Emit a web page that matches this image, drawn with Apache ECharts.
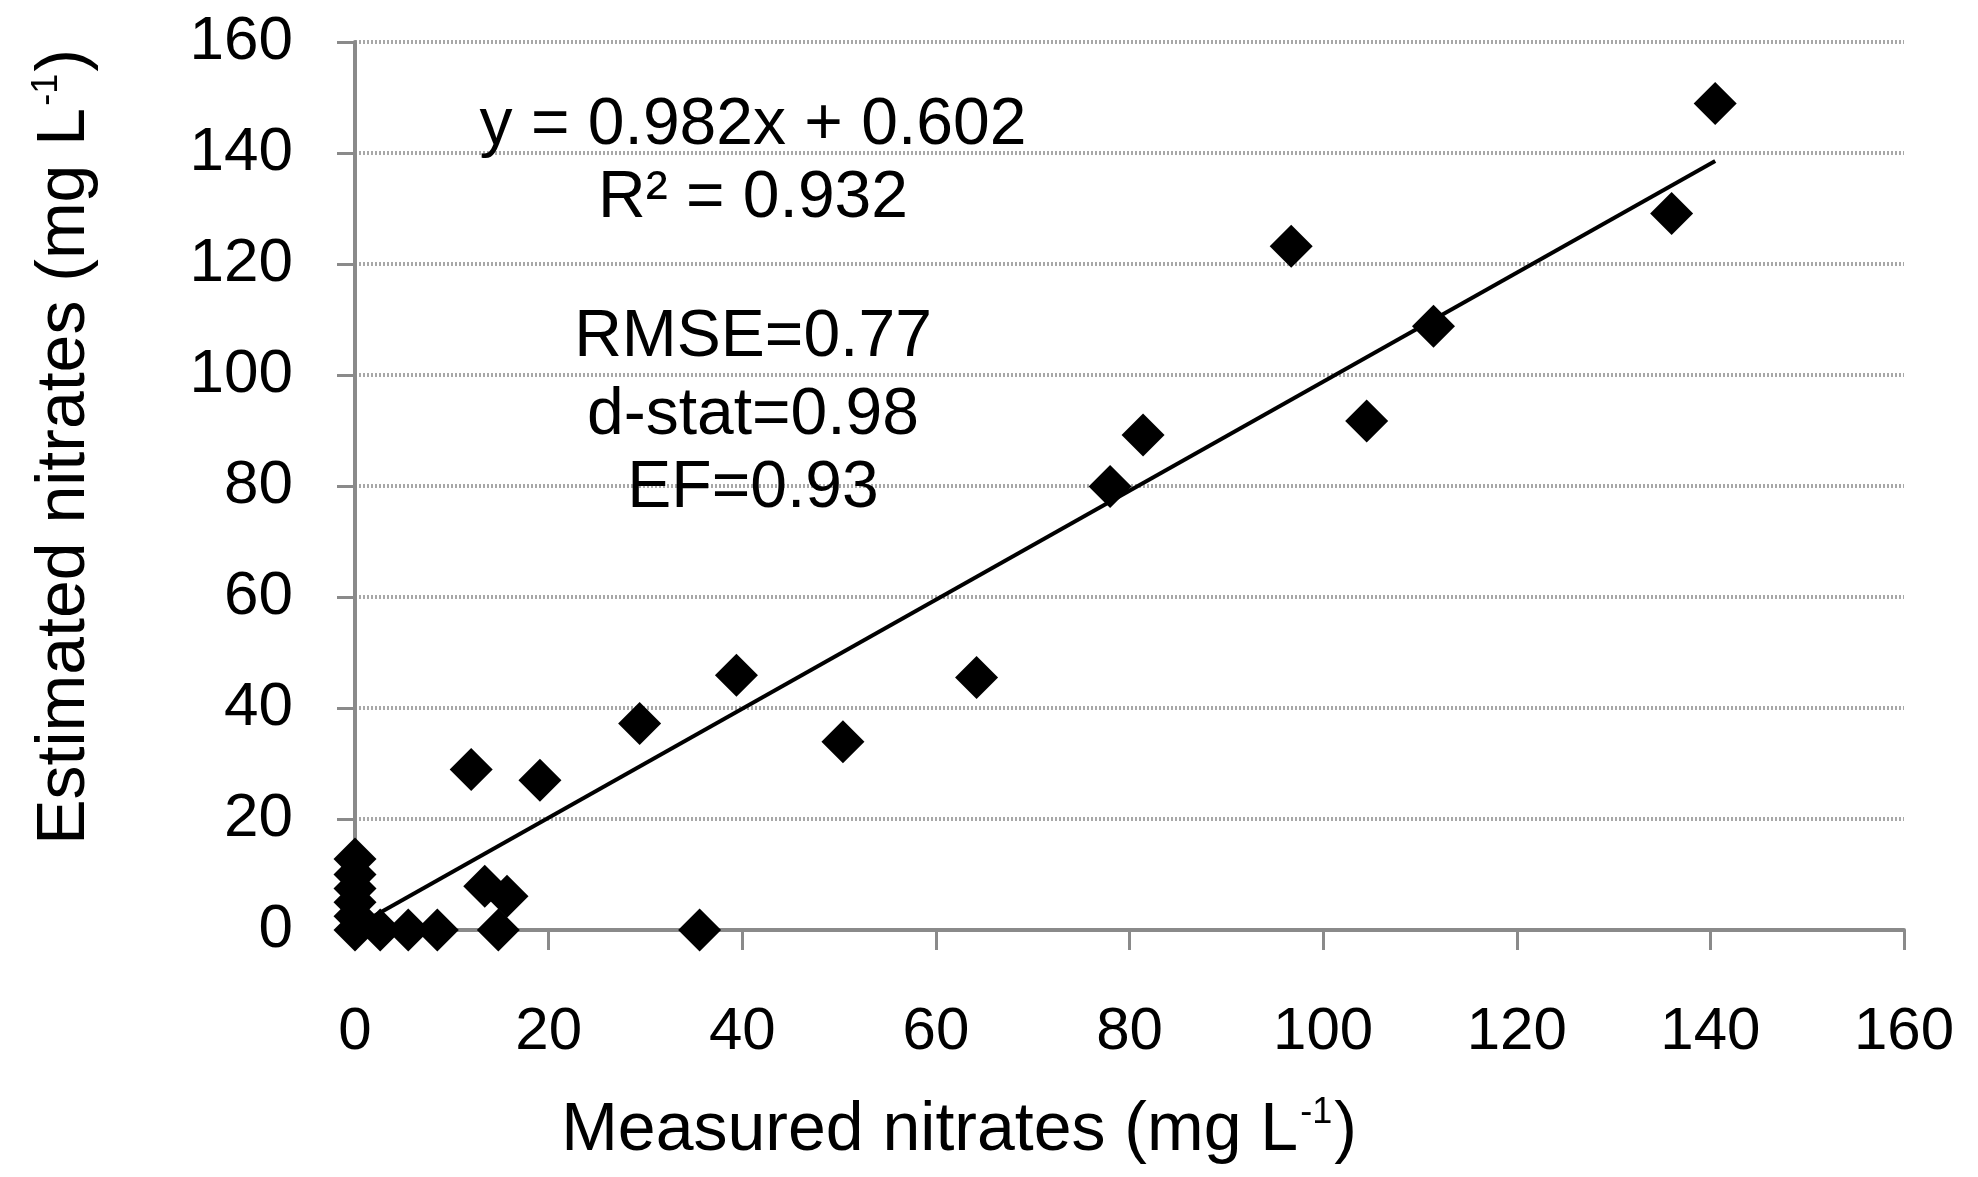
<!DOCTYPE html>
<html>
<head>
<meta charset="utf-8">
<script src="https://cdn.jsdelivr.net/npm/echarts@6/dist/echarts.min.js"></script>
<style>
html,body{margin:0;padding:0;background:#fff;}
#chart{width:1978px;height:1177px;}
</style>
</head>
<body>
<div id="chart"></div>
<script>
// Measured (x) vs estimated (y) nitrates, mg L-1
var measured = [140.5, 136.0, 111.4, 104.5, 96.7, 81.4, 78.0, 64.2, 50.4, 39.4, 29.4, 19.1, 12.0, 35.6, 13.4, 15.7, 14.8, 8.5, 5.5, 2.6, 0, 0, 0, 0, 0, 0];
var estimated = [148.9, 129.1, 108.8, 91.7, 123.2, 89.2, 79.9, 45.5, 33.9, 45.9, 37.2, 27.0, 28.9, 0, 7.9, 6.1, 0, 0, 0, 0, 0, 2.5, 5.0, 7.5, 10.0, 12.8];
// Trendline as printed on the chart: y = 0.982x + 0.602
var trendSlope = 0.982;
var trendIntercept = 0.602;
var axisTicks = [0, 20, 40, 60, 80, 100, 120, 140, 160];
var statLines = ['y = 0.982x + 0.602', 'R² = 0.932', 'RMSE=0.77', 'd-stat=0.98', 'EF=0.93'];
var xTitle = 'Measured nitrates (mg L';
var yTitle = 'Estimated nitrates (mg L';
var unitSup = '-1';

var points = measured.map(function (v, i) { return [v, estimated[i]]; });
var xMin = Math.min.apply(null, measured);
var xMax = Math.max.apply(null, measured);
var trend = [[xMin, trendSlope * xMin + trendIntercept], [xMax, trendSlope * xMax + trendIntercept]];

var FONT = '"Liberation Sans", Arial, Helvetica, sans-serif';
var chart = echarts.init(document.getElementById('chart'), null, {renderer: 'canvas'});

var statY = [126, 199, 338, 416, 489];
var graphics = statLines.map(function (t, i) {
  return {
    type: 'text', x: 753, y: statY[i],
    style: {text: t, fill: '#000', font: '66px ' + FONT, align: 'center', verticalAlign: 'middle'},
    z: 100
  };
});
var titleRich = {
  n: {fontSize: 68, fontFamily: FONT, fill: '#000', lineHeight: 76, verticalAlign: 'bottom'},
  s: {fontSize: 36, fontFamily: FONT, fill: '#000', lineHeight: 76, verticalAlign: 'top', padding: [6, 2, 0, 2]}
};
graphics.push({
  type: 'text', x: 959, y: 1127,
  style: {
    text: '{n|' + xTitle + '}{s|' + unitSup + '}{n|)}',
    align: 'center', verticalAlign: 'middle', rich: titleRich
  }
});
graphics.push({
  type: 'text', x: 61, y: 447, rotation: Math.PI / 2,
  style: {
    text: '{n|' + yTitle + '}{s|' + unitSup + '}{n|)}',
    align: 'center', verticalAlign: 'middle', rich: titleRich
  }
});

var axisCommon = {
  type: 'value', min: axisTicks[0], max: axisTicks[axisTicks.length - 1],
  interval: axisTicks[1] - axisTicks[0],
  axisLine: {show: true, onZero: false, lineStyle: {color: '#8a8a8a', width: 4}}
};

chart.setOption({
  animation: false,
  backgroundColor: '#ffffff',
  grid: {left: 355, right: 74, top: 42, bottom: 247, containLabel: false},
  xAxis: Object.assign({}, axisCommon, {
    axisTick: {show: true, length: 20, lineStyle: {color: '#8a8a8a', width: 3}},
    axisLabel: {fontSize: 60, fontFamily: FONT, color: '#000', margin: 72, lineHeight: 60},
    splitLine: {show: false}
  }),
  yAxis: Object.assign({}, axisCommon, {
    axisTick: {show: true, length: 18, lineStyle: {color: '#8a8a8a', width: 3}},
    axisLabel: {fontSize: 62, fontFamily: FONT, color: '#000', margin: 62},
    splitLine: {show: true, lineStyle: {color: '#a8a8a8', width: 4, type: [2, 2]}}
  }),
  series: [
    {
      type: 'scatter', data: points, symbol: 'diamond', symbolSize: 43,
      itemStyle: {color: '#000', opacity: 1}, z: 3
    },
    {
      type: 'line', data: trend, symbol: 'none', silent: true,
      lineStyle: {color: '#000', width: 4}, z: 4
    }
  ],
  graphic: graphics
});
</script>
</body>
</html>
